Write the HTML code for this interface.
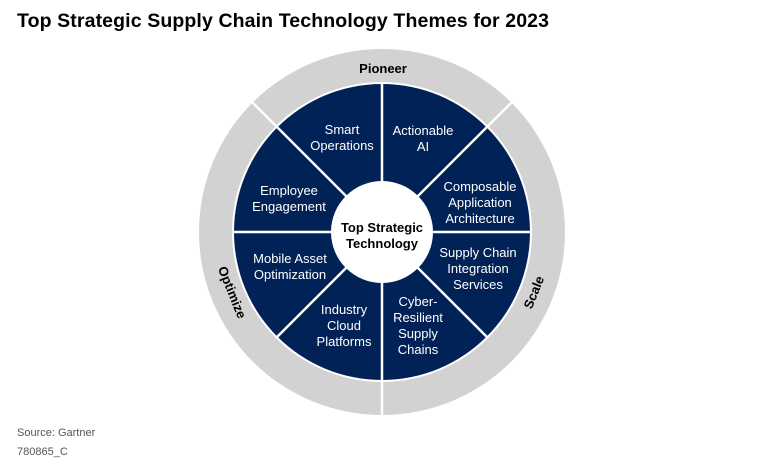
<!DOCTYPE html>
<html><head><style>
body{margin:0;background:#fff;width:764px;height:467px;overflow:hidden;font-family:"Liberation Sans",sans-serif;}
</style></head><body>
<svg width="764" height="467" viewBox="0 0 764 467" xmlns="http://www.w3.org/2000/svg" font-family="Liberation Sans, sans-serif">
<text x="17" y="27" font-size="19.5" font-weight="bold" fill="#000" textLength="532">Top Strategic Supply Chain Technology Themes for 2023</text>
<circle cx="382" cy="232" r="183" fill="#d2d2d2"/>
<circle cx="382" cy="232" r="150" fill="#fff"/>
<circle cx="382" cy="232" r="148" fill="#002256"/>
<g stroke="#fff" stroke-width="2.5">
<line x1="382" y1="84" x2="382" y2="380"/>
<line x1="234" y1="232" x2="530" y2="232"/>
<line x1="277.3" y1="127.3" x2="486.7" y2="336.7"/>
<line x1="486.7" y1="127.3" x2="277.3" y2="336.7"/>
<line x1="382" y1="380" x2="382" y2="416"/>
<line x1="277.3" y1="127.3" x2="252" y2="102"/>
<line x1="486.7" y1="127.3" x2="512" y2="102"/>
</g>
<circle cx="382" cy="232" r="51" fill="#fff"/>
<g fill="#000" font-weight="bold" text-anchor="middle">
<text x="383" y="73" font-size="13">Pioneer</text>
<text transform="translate(538,294) rotate(-68)" font-size="13">Scale</text>
<text transform="translate(228,294) rotate(68)" font-size="13">Optimize</text>
<text x="382" y="232" font-size="13">Top Strategic</text>
<text x="382" y="248" font-size="13">Technology</text>
</g>
<g fill="#fff" font-size="13" text-anchor="middle">
<text x="342" y="134">Smart</text><text x="342" y="150">Operations</text>
<text x="423" y="135">Actionable</text><text x="423" y="151">AI</text>
<text x="480" y="191">Composable</text><text x="480" y="207">Application</text><text x="480" y="223">Architecture</text>
<text x="289" y="195">Employee</text><text x="289" y="211">Engagement</text>
<text x="290" y="263">Mobile Asset</text><text x="290" y="279">Optimization</text>
<text x="478" y="257">Supply Chain</text><text x="478" y="273">Integration</text><text x="478" y="289">Services</text>
<text x="344" y="314">Industry</text><text x="344" y="330">Cloud</text><text x="344" y="346">Platforms</text>
<text x="418" y="306">Cyber-</text><text x="418" y="322">Resilient</text><text x="418" y="338">Supply</text><text x="418" y="354">Chains</text>
</g>
<text x="17" y="436" font-size="11" fill="#555">Source: Gartner</text>
<text x="17" y="455" font-size="11" fill="#555">780865_C</text>
</svg>
</body></html>
